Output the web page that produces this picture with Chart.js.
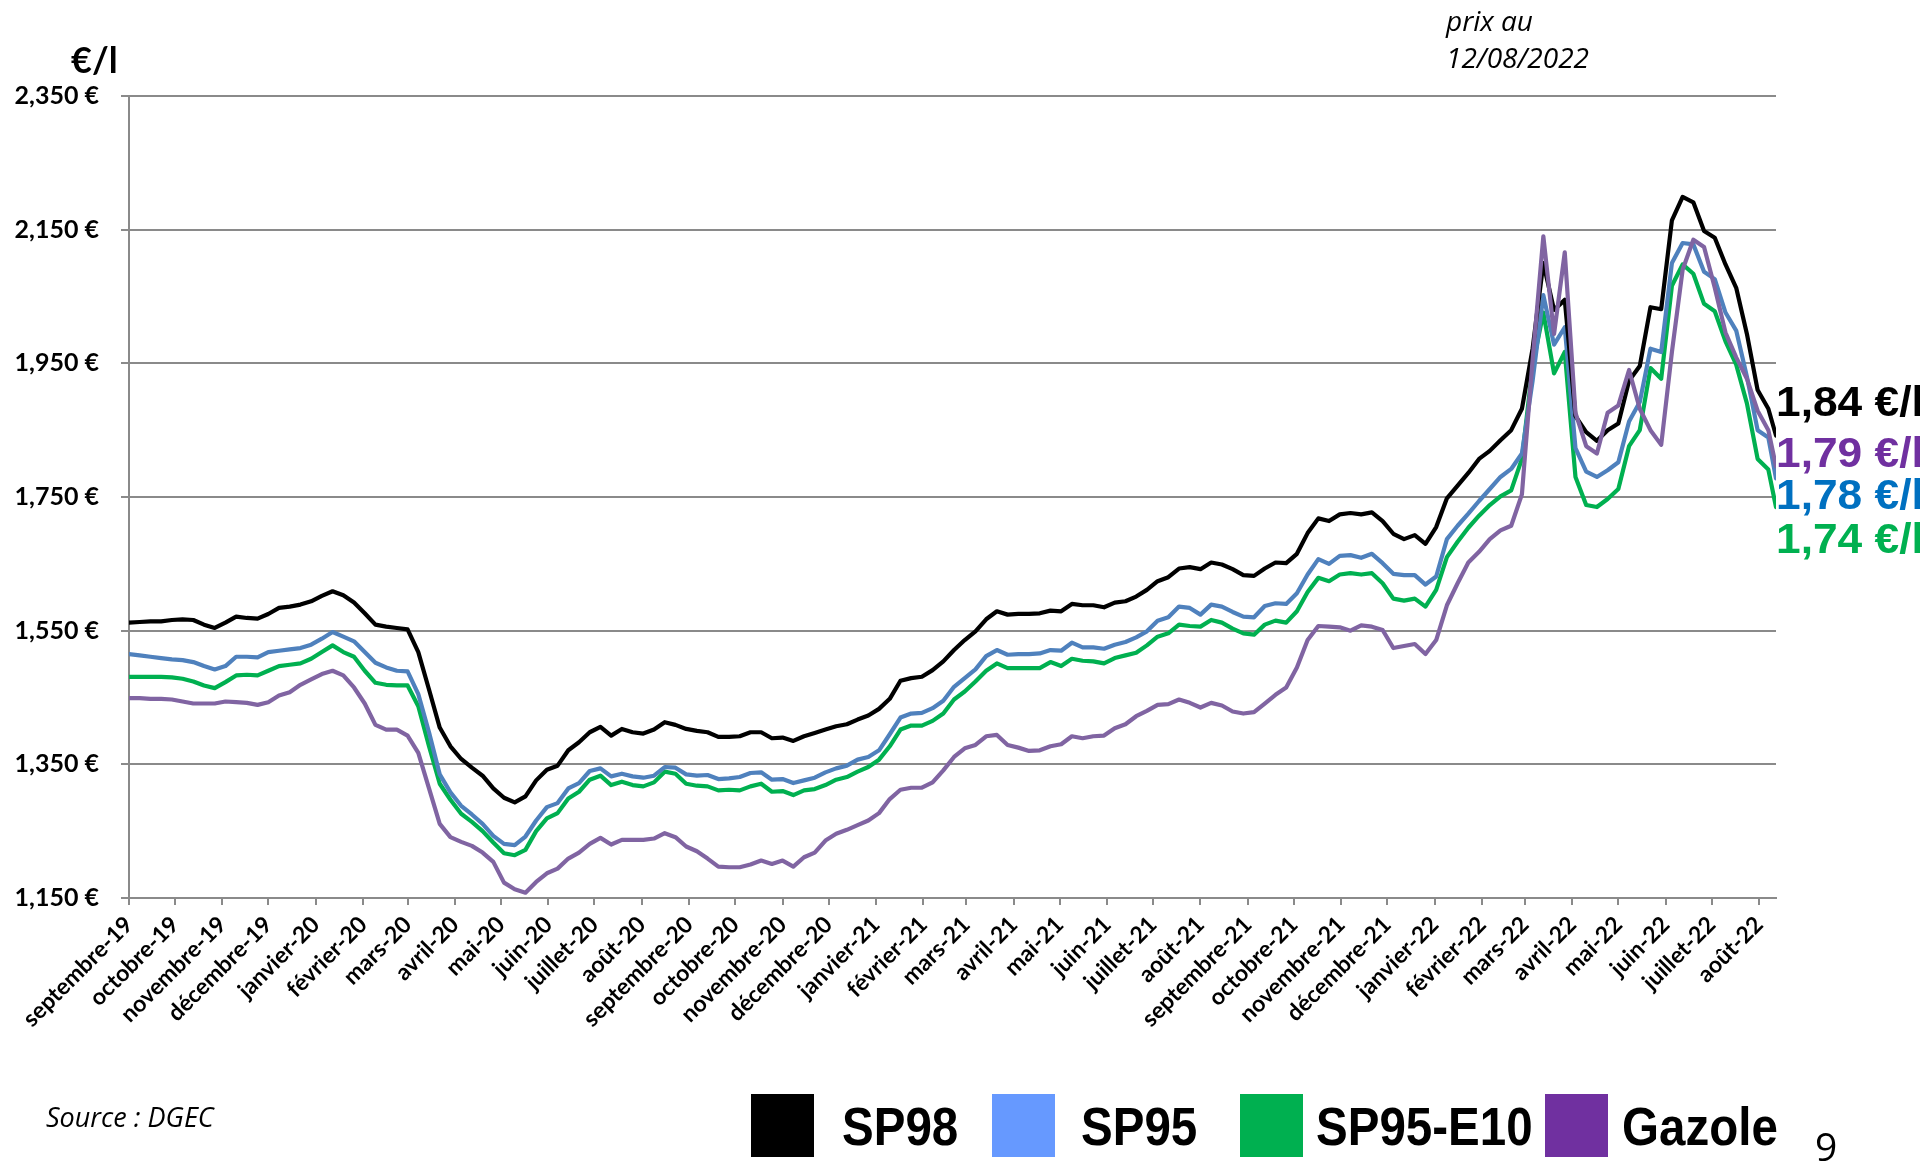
<!DOCTYPE html>
<html lang="fr">
<head>
    <meta charset="UTF-8">
    <title>Prix des carburants</title>
    <script src="https://cdn.jsdelivr.net/npm/chart.js"></script>
    <style>
        html, body { margin: 0; padding: 0; background: #fff; }
        #wrap { width: 1920px; height: 1163px; }
    </style>
</head>
<body>
<div id="wrap"><canvas id="fuelChart" width="1920" height="1163"></canvas></div>
<script>
    // x labels : one per month
    const monthLabels = [
        'septembre-19', 'octobre-19', 'novembre-19', 'décembre-19',
        'janvier-20', 'février-20', 'mars-20', 'avril-20', 'mai-20', 'juin-20',
        'juillet-20', 'août-20', 'septembre-20', 'octobre-20', 'novembre-20', 'décembre-20',
        'janvier-21', 'février-21', 'mars-21', 'avril-21', 'mai-21', 'juin-21',
        'juillet-21', 'août-21', 'septembre-21', 'octobre-21', 'novembre-21', 'décembre-21',
        'janvier-22', 'février-22', 'mars-22', 'avril-22', 'mai-22', 'juin-22',
        'juillet-22', 'août-22'
    ];
    const yTicks = [1.15, 1.35, 1.55, 1.75, 1.95, 2.15, 2.35];

    // weekly prices (€/l), last value = 12/08/2022
    const sp98 = [
        1.562, 1.563, 1.564, 1.564, 1.566, 1.567, 1.566, 1.559, 1.554, 1.562,
        1.571, 1.569, 1.568, 1.575, 1.584, 1.586, 1.589, 1.594, 1.602, 1.609,
        1.603, 1.592, 1.576, 1.559, 1.556, 1.554, 1.552, 1.518, 1.462, 1.405,
        1.377, 1.358, 1.345, 1.333, 1.314, 1.300, 1.293, 1.302, 1.326, 1.342,
        1.348, 1.371, 1.383, 1.398, 1.406, 1.393, 1.403, 1.398, 1.396, 1.402,
        1.413, 1.409, 1.403, 1.400, 1.398, 1.391, 1.391, 1.392, 1.398, 1.398,
        1.389, 1.390, 1.385, 1.392, 1.397, 1.402, 1.407, 1.410, 1.417, 1.423,
        1.433, 1.448, 1.475, 1.479, 1.481, 1.491, 1.504, 1.521, 1.536, 1.549,
        1.567, 1.579, 1.574, 1.575, 1.575, 1.576, 1.580, 1.579, 1.590, 1.588,
        1.588, 1.585, 1.592, 1.594, 1.601, 1.611, 1.624, 1.630, 1.643, 1.645,
        1.642, 1.652, 1.649, 1.642, 1.633, 1.632, 1.643, 1.652, 1.651, 1.665,
        1.696, 1.718, 1.714, 1.724, 1.726, 1.724, 1.727, 1.714, 1.695, 1.687,
        1.693, 1.680, 1.705, 1.748, 1.767, 1.786, 1.807, 1.819, 1.835, 1.850,
        1.882, 1.972, 2.100, 2.030, 2.045, 1.871, 1.847, 1.834, 1.850, 1.860,
        1.924, 1.946, 2.034, 2.031, 2.164, 2.199, 2.191, 2.148, 2.138, 2.098,
        2.063, 1.994, 1.910, 1.882, 1.842
    ];
    const sp95 = [
        1.515, 1.513, 1.511, 1.509, 1.507, 1.506, 1.503, 1.497, 1.492, 1.497,
        1.511, 1.511, 1.510, 1.518, 1.520, 1.522, 1.524, 1.529, 1.538, 1.548,
        1.541, 1.534, 1.518, 1.502, 1.495, 1.490, 1.489, 1.455, 1.398, 1.335,
        1.308, 1.288, 1.275, 1.261, 1.243, 1.231, 1.229, 1.242, 1.266, 1.286,
        1.292, 1.314, 1.322, 1.340, 1.344, 1.332, 1.336, 1.332, 1.330, 1.333,
        1.346, 1.345, 1.335, 1.333, 1.334, 1.328, 1.329, 1.331, 1.337, 1.338,
        1.327, 1.328, 1.322, 1.326, 1.330, 1.338, 1.344, 1.348, 1.357, 1.361,
        1.371, 1.395, 1.420, 1.426, 1.427, 1.434, 1.445, 1.466, 1.479, 1.492,
        1.512, 1.521, 1.514, 1.515, 1.515, 1.516, 1.521, 1.520, 1.532, 1.525,
        1.525, 1.523, 1.529, 1.533, 1.540, 1.549, 1.565, 1.570, 1.586, 1.584,
        1.574, 1.589, 1.586, 1.578, 1.571, 1.570, 1.587, 1.591, 1.590, 1.606,
        1.634, 1.657, 1.650, 1.662, 1.663, 1.659, 1.665, 1.651, 1.635, 1.633,
        1.633, 1.619, 1.631, 1.687, 1.707, 1.725, 1.744, 1.762, 1.780, 1.792,
        1.815, 1.924, 2.052, 1.978, 2.004, 1.823, 1.788, 1.780, 1.790, 1.802,
        1.863, 1.892, 1.972, 1.967, 2.100, 2.130, 2.128, 2.087, 2.076, 2.026,
        1.999, 1.930, 1.850, 1.839, 1.778
    ];
    const sp95e10 = [
        1.481, 1.481, 1.481, 1.481, 1.480, 1.478, 1.474, 1.468, 1.464, 1.473,
        1.483, 1.484, 1.483, 1.490, 1.497, 1.499, 1.501, 1.508, 1.518, 1.528,
        1.518, 1.511, 1.490, 1.472, 1.469, 1.468, 1.468, 1.437, 1.377, 1.321,
        1.297, 1.276, 1.264, 1.250, 1.233, 1.217, 1.214, 1.222, 1.250, 1.269,
        1.277, 1.299, 1.309, 1.327, 1.333, 1.319, 1.324, 1.319, 1.317, 1.323,
        1.339, 1.336, 1.321, 1.318, 1.317, 1.311, 1.312, 1.311, 1.317, 1.321,
        1.309, 1.310, 1.304, 1.311, 1.313, 1.319, 1.327, 1.331, 1.339, 1.346,
        1.357, 1.377, 1.402, 1.408, 1.408, 1.415, 1.426, 1.447, 1.459, 1.474,
        1.490, 1.501, 1.494, 1.494, 1.494, 1.494, 1.503, 1.497, 1.508, 1.505,
        1.504, 1.501, 1.509, 1.513, 1.517, 1.528, 1.541, 1.546, 1.559, 1.557,
        1.556, 1.566, 1.562, 1.553, 1.546, 1.544, 1.559, 1.565, 1.562, 1.579,
        1.608, 1.629, 1.624, 1.634, 1.636, 1.634, 1.636, 1.621, 1.598, 1.595,
        1.598, 1.586, 1.611, 1.660, 1.683, 1.704, 1.722, 1.738, 1.751, 1.760,
        1.807, 1.946, 2.026, 1.935, 1.967, 1.780, 1.738, 1.735, 1.747, 1.762,
        1.826, 1.850, 1.943, 1.927, 2.066, 2.098, 2.084, 2.039, 2.028, 1.983,
        1.948, 1.890, 1.807, 1.791, 1.735
    ];
    const gazole = [
        1.449, 1.449, 1.448, 1.448, 1.447, 1.444, 1.441, 1.441, 1.441, 1.444,
        1.443, 1.442, 1.439, 1.443, 1.453, 1.458, 1.469, 1.477, 1.485, 1.490,
        1.483, 1.465, 1.441, 1.409, 1.402, 1.402, 1.393, 1.367, 1.314, 1.261,
        1.241, 1.234, 1.228, 1.218, 1.204, 1.173, 1.163, 1.158, 1.174, 1.187,
        1.194, 1.209, 1.218, 1.231, 1.240, 1.230, 1.237, 1.237, 1.237, 1.239,
        1.247, 1.241, 1.227, 1.220, 1.209, 1.197, 1.196, 1.196, 1.200, 1.206,
        1.201, 1.206, 1.197, 1.211, 1.218, 1.236, 1.246, 1.252, 1.259, 1.266,
        1.277, 1.298, 1.312, 1.315, 1.315, 1.323, 1.341, 1.361, 1.374, 1.379,
        1.392, 1.394, 1.379, 1.375, 1.370, 1.371, 1.377, 1.380, 1.392, 1.389,
        1.392, 1.393, 1.404, 1.410, 1.422, 1.430, 1.439, 1.440, 1.447, 1.442,
        1.435, 1.442, 1.438, 1.429, 1.426, 1.428, 1.441, 1.454, 1.465, 1.495,
        1.536, 1.557, 1.556, 1.555, 1.550, 1.558, 1.556, 1.551, 1.524, 1.527,
        1.530, 1.515, 1.536, 1.588, 1.621, 1.652, 1.668, 1.687, 1.700, 1.707,
        1.754, 1.956, 2.140, 1.994, 2.116, 1.876, 1.826, 1.815, 1.876, 1.887,
        1.940, 1.882, 1.850, 1.828, 1.967, 2.090, 2.135, 2.124, 2.063, 1.996,
        1.959, 1.927, 1.879, 1.850, 1.796
    ];

    const endLabels = ['1,84 €/l', '1,79 €/l', '1,78 €/l', '1,74 €/l'];
    const endColors = ['#000000', '#7030A0', '#0070C0', '#00B050'];

    // dates : day offset from 1 Sept 2019, weekly, then the 12/08/2022 price
    const DAY = 86400000;
    const start = Date.UTC(2019, 8, 1);
    const lastDay = (Date.UTC(2022, 7, 12) - start) / DAY;
    const days = [];
    for (let i = 0; i < sp98.length - 1; i++) days.push(i * 7);
    days.push(lastDay);
    const monthDays = monthLabels.map((_, k) => (Date.UTC(2019, 8 + k, 1) - start) / DAY);

    const toPoints = arr => arr.map((v, i) => ({ x: days[i], y: v }));

    // extra texts + legend drawn on the canvas
    const extras = {
        id: 'extras',
        afterDraw(chart) {
            const ctx = chart.ctx;
            ctx.save();
            ctx.textAlign = 'left';
            ctx.textBaseline = 'alphabetic';
            ctx.fillStyle = '#000';
            ctx.font = 'bold 36px Lato';
            ctx.fillText('€/l', 71, 73);

            ctx.font = 'italic 28px "Open Sans"';
            ctx.fillText('prix au', 1446, 31);
            ctx.fillText('12/08/2022', 1446, 68);

            ctx.font = 'italic 27px "Open Sans"';
            ctx.fillText('Source : DGEC', 46, 1127);

            ctx.font = '39px "Open Sans"';
            ctx.fillText('9', 1815, 1161);

            // labels at the end of the lines (cut by the page edge)
            const baselines = [416, 467, 509, 553];
            ctx.font = 'bold 43px "Liberation Sans"';
            endLabels.forEach((t, i) => {
                ctx.save();
                ctx.translate(1776, baselines[i]);
                ctx.scale(1.03, 1);
                ctx.fillStyle = endColors[i];
                ctx.fillText(t, 0, 0);
                ctx.restore();
            });

            // legend
            const boxes = [751, 992, 1240, 1545];
            const texts = [842, 1081, 1316, 1622];
            chart.data.datasets
                .slice()
                .sort((a, b) => a.legendIndex - b.legendIndex)
                .forEach((ds, i) => {
                    ctx.fillStyle = ds.legendColor;
                    ctx.fillRect(boxes[i], 1094, 63, 63);
                    ctx.save();
                    ctx.translate(texts[i], 1145);
                    ctx.scale(0.88, 1);
                    ctx.fillStyle = '#000';
                    ctx.font = 'bold 54px "Liberation Sans"';
                    ctx.fillText(ds.label, 0, 0);
                    ctx.restore();
                });
            ctx.restore();
        }
    };

    const gridGrey = '#8a8a8a';

    new Chart(document.getElementById('fuelChart').getContext('2d'), {
        type: 'line',
        data: {
            datasets: [
                { label: 'Gazole', data: toPoints(gazole), borderColor: '#8064A2', legendColor: '#7030A0', legendIndex: 3, order: 0 },
                { label: 'SP98', data: toPoints(sp98), borderColor: '#000000', legendColor: '#000000', legendIndex: 0, order: 1 },
                { label: 'SP95', data: toPoints(sp95), borderColor: '#4F81BD', legendColor: '#6699FF', legendIndex: 1, order: 2 },
                { label: 'SP95-E10', data: toPoints(sp95e10), borderColor: '#00B050', legendColor: '#00B050', legendIndex: 2, order: 3 }
            ]
        },
        options: {
            responsive: false,
            animation: false,
            layout: { padding: { left: 0, right: 144, top: 96, bottom: 0 } },
            elements: {
                point: { radius: 0 },
                line: { borderWidth: 4.2, tension: 0, borderJoinStyle: 'round', borderCapStyle: 'round' }
            },
            plugins: {
                legend: { display: false },
                tooltip: { enabled: false }
            },
            scales: {
                x: {
                    type: 'linear',
                    min: 0,
                    max: lastDay,
                    afterBuildTicks: s => { s.ticks = monthDays.map(v => ({ value: v })); },
                    afterFit: s => { s.height = 265; s.paddingLeft = 0; s.paddingRight = 0; },
                    ticks: {
                        autoSkip: false,
                        minRotation: 45,
                        maxRotation: 45,
                        padding: 6,
                        color: '#000',
                        font: { family: 'Lato', weight: 'bold', size: 23 },
                        callback: (v, i) => monthLabels[i]
                    },
                    grid: { drawOnChartArea: false, drawTicks: true, tickLength: 7, color: gridGrey, lineWidth: 2 },
                    border: { color: gridGrey, width: 2 }
                },
                y: {
                    min: 1.15,
                    max: 2.35,
                    afterBuildTicks: s => { s.ticks = yTicks.map(v => ({ value: v })); },
                    afterFit: s => { s.width = 129; },
                    ticks: {
                        padding: 22,
                        color: '#000',
                        font: { family: 'Lato', weight: 'bold', size: 25 },
                        callback: v => v.toFixed(3).replace('.', ',') + ' €'
                    },
                    grid: { color: gridGrey, lineWidth: 2, tickLength: 8 },
                    border: { color: gridGrey, width: 2 }
                }
            }
        },
        plugins: [extras]
    });
</script>
</body>
</html>
